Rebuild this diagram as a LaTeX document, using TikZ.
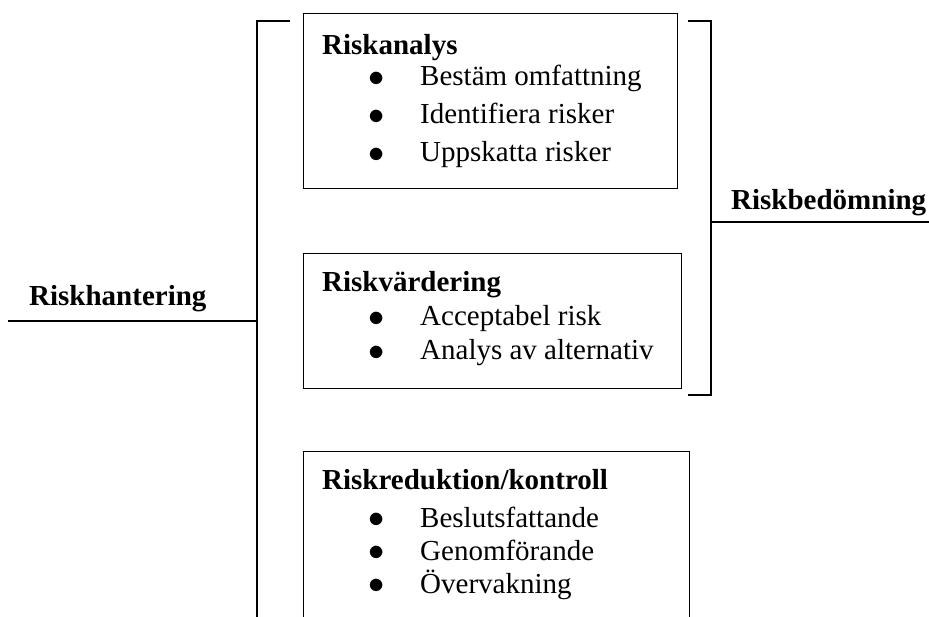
\documentclass[tikz,border=0pt]{standalone}
\usepackage{fontspec}
\setmainfont{Liberation Serif}
\newcommand{\punktmark}{\makebox[52pt][l]{\smash{\raisebox{-0.5pt}{\scalebox{1.3}{$\bullet$}}}}}
\begin{document}
\begin{tikzpicture}[x=1pt,y=-1pt,
    ruta/.style={draw,line width=1.4pt,anchor=north west,inner sep=0pt},
    rubrik/.style={anchor=base west,inner sep=0pt,text height=20pt,text depth=6pt,font=\fontsize{29}{34}\selectfont\bfseries},
    punkt/.style={anchor=base west,inner sep=0pt,text height=20pt,text depth=6pt,font=\fontsize{29}{34}\selectfont},
    linje/.style={line width=1.4pt}]
    \useasboundingbox (0,0) rectangle (929,617);
    \clip (0,0) rectangle (929,617);

    % rutorna
    \node[ruta,minimum width=374pt,minimum height=175pt] (analys) at (303,13) {};
    \node[ruta,minimum width=378pt,minimum height=135pt] (vardering) at (303,253) {};
    \node[ruta,minimum width=386pt,minimum height=190pt] (reduktion) at (303,451) {};

    % texter i rutorna
    \node[rubrik] (analys-h) at (322,55) {Riskanalys};
    \foreach \y/\txt [count=\i] in {86/Bestäm omfattning,124/Identifiera risker,162/Uppskatta risker}
        \node[punkt] (analys-\i) at (368,\y) {\punktmark\txt};
    \node[rubrik] (vardering-h) at (322,292) {Riskvärdering};
    \foreach \y/\txt [count=\i] in {326/Acceptabel risk,360/Analys av alternativ}
        \node[punkt] (vardering-\i) at (368,\y) {\punktmark\txt};
    \node[rubrik] (reduktion-h) at (322,489) {Riskreduktion/kontroll};
    \foreach \y/\txt [count=\i] in {527/Beslutsfattande,560/Genomförande,593/Övervakning}
        \node[punkt] (reduktion-\i) at (368,\y) {\punktmark\txt};

    % klamrar och etiketter
    \node[rubrik] (hantering) at (29,306) {Riskhantering};
    \node[rubrik] (bedomning) at (731,210) {Riskbedömning};
    \coordinate (vk-topp) at (290,21);
    \coordinate (vk-mitt) at (257,321);
    \coordinate (vk-fri) at (8,321);
    \draw[linje] (vk-topp) -- (257,21) -- (257,640);
    \draw[linje] (vk-fri) -- (vk-mitt);
    \coordinate (hk-topp) at (688,21);
    \coordinate (hk-botten) at (688,395);
    \coordinate (hk-mitt) at (711,222);
    \coordinate (hk-fri) at (929,222);
    \draw[linje] (hk-topp) -- (711,21) -- (711,395) -- (hk-botten);
    \draw[linje] (hk-mitt) -- (hk-fri);
\end{tikzpicture}
\end{document}
